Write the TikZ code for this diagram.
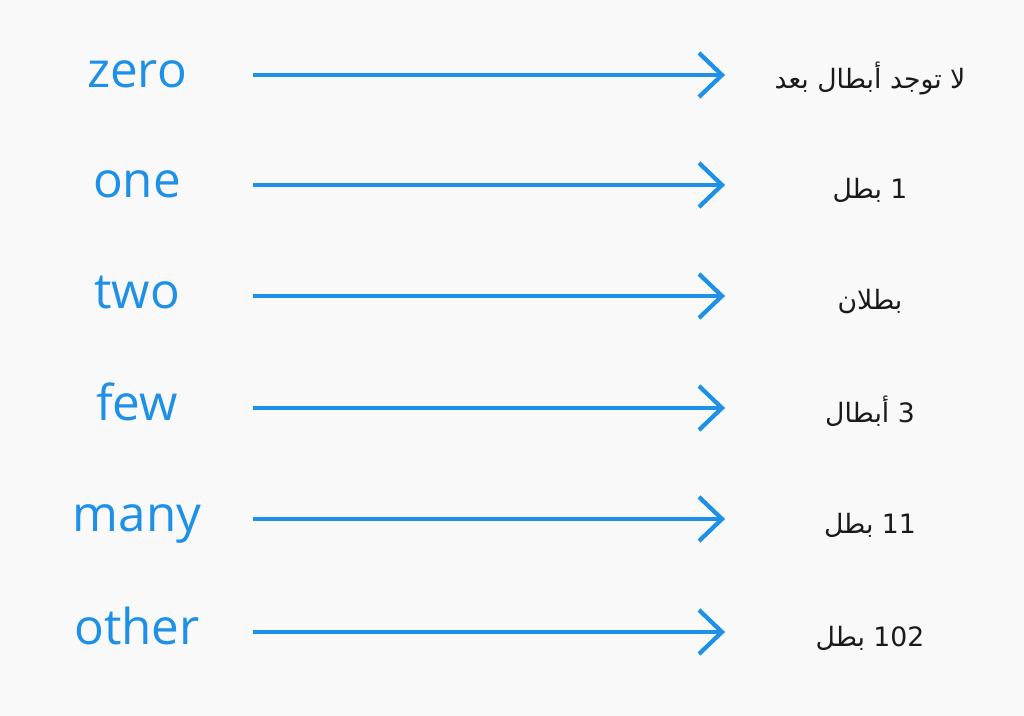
\documentclass[tikz,border=0pt]{standalone}
\usepackage{fontspec}
\setmainfont{Open Sans}
\newfontfamily\arabicfont[Script=Arabic]{DejaVu Sans}
\TeXXeTstate=1
\definecolor{bg}{HTML}{F9F9F9}
\definecolor{pblue}{HTML}{1E90E8}
\definecolor{ink}{HTML}{1A1A1A}
\begin{document}
\begin{tikzpicture}[x=0.75pt,y=-0.75pt,
  keyword/.style={anchor=base,inner sep=0pt,text=pblue,font=\fontsize{37}{44}\selectfont},
  valuetext/.style={anchor=base,inner sep=0pt,text=ink,font=\arabicfont\fontsize{20}{24}\selectfont},
  mapline/.style={draw=pblue,line width=3.2pt},
  headline/.style={draw=pblue,line width=3.2pt,line join=miter}]
\fill[bg] (0,0) rectangle (1024,716);
\useasboundingbox (0,0) rectangle (1024,716);
\foreach \i/\y/\k/\v in {
  1/75/zero/{\beginR لا توجد أبطال بعد\endR},
  2/185/one/{\beginR 1 بطل\endR},
  3/296/two/{\beginR بطلان\endR},
  4/408/few/{\beginR 3 أبطال\endR},
  5/519/many/{\beginR \beginL 11\endL{} بطل\endR},
  6/632/other/{\beginR \beginL 102\endL{} بطل\endR}}{
  \node[keyword] (k\i) at (137,\y+12.5) {\k};
  \node[valuetext] (v\i) at (870,\y+14) {\v};
  \coordinate (s\i) at (253,\y);
  \coordinate (e\i) at (722,\y);
  \draw[mapline] (s\i) -- (e\i);
  \draw[headline] (e\i) ++(-23,-22) -- (e\i) -- ++(-23,22);
}
\end{tikzpicture}
\end{document}
